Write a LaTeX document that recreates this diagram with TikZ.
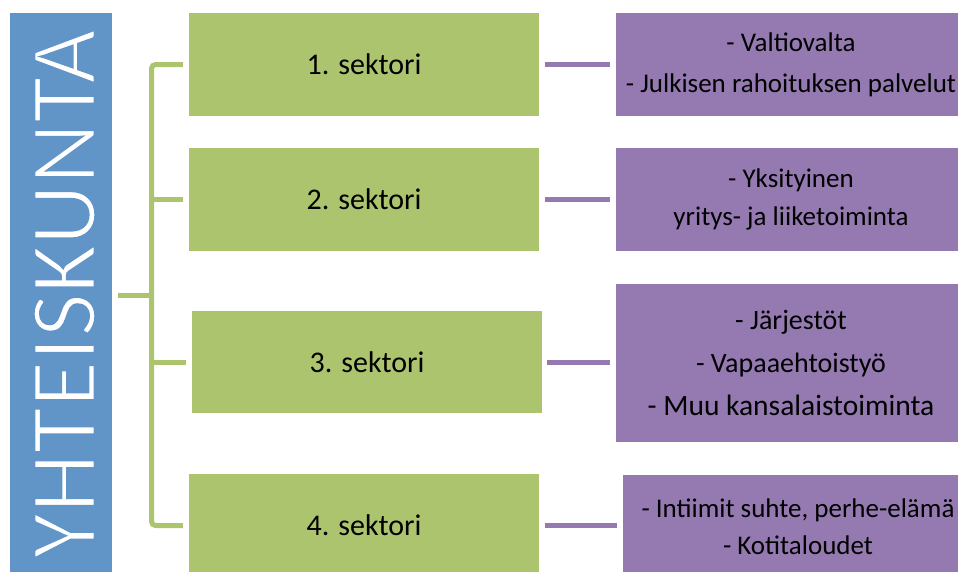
\documentclass[tikz,border=0pt]{standalone}
\usepackage{fontspec}
\setmainfont{Carlito}
\definecolor{bluebox}{HTML}{6195C8}
\definecolor{greenbox}{HTML}{ADC46F}
\definecolor{purplebox}{HTML}{947AB1}
\newcommand{\thintext}[1]{\special{pdf:code q 2 Tr 2.6 w 0.380 0.584 0.784 RG}#1\special{pdf:code Q}}
\begin{document}
\begin{tikzpicture}[x=1pt,y=-1pt,
  gbox/.style={fill=greenbox, draw=none, minimum width=350pt, minimum height=103pt, inner sep=0pt, font=\fontsize{30}{36}\selectfont},
  pbox/.style={fill=purplebox, draw=none, minimum width=350pt, inner sep=0pt, align=center},
  tree/.style={draw=greenbox, line width=5pt},
  conn/.style={draw=purplebox, line width=5pt, shorten <=6pt, shorten >=6pt}]
\useasboundingbox (0,0) rectangle (958,571);
\clip (0,0) rectangle (958,571);
% left blue box
\node[fill=bluebox, minimum width=102pt, minimum height=564pt, inner sep=0pt] (blue) at (61,295) {};
\node[rotate=90, text=white, font=\fontsize{95}{100}\selectfont, inner sep=0pt] (title) at (64.5,294) {\thintext{YHTEISKUNTA}};
% green sectors
\node[gbox] (g1) at (364,64.5) {1. sektori};
\node[gbox] (g2) at (364,199.5) {2. sektori};
\node[gbox, minimum height=102pt] (g3) at (367,362) {3. sektori};
\node[gbox] (g4) at (364,525.5) {4. sektori};
% purple descriptions
\node[pbox, minimum height=103pt, font=\fontsize{27}{41}\selectfont] (p1) at (791,64.5) {- Valtiovalta\\- Julkisen rahoituksen palvelut};
\node[pbox, minimum height=103pt, font=\fontsize{27}{38}\selectfont] (p2) at (791,199.5) {- Yksityinen\\yritys- ja liiketoiminta};
\node[pbox, minimum height=158pt, font=\fontsize{28}{43}\selectfont] (p3) at (791,363) {- Järjestöt\\- Vapaaehtoistyö\\{\fontsize{29.5}{43}\selectfont - Muu kansalaistoiminta}};
\node[pbox, minimum height=103pt, font=\fontsize{27}{37}\selectfont] (p4) at (798,526.5) {- Intiimit suhte, perhe-elämä\\- Kotitaloudet};
% green tree
\coordinate (trunk) at (151.5,295);
\draw[tree, rounded corners=4pt, shorten <=6pt, shorten >=6pt] (g1.west) -| (trunk |- g4.west) -- (g4.west);
\draw[tree, shorten >=6pt] (g2.west -| trunk) -- (g2.west);
\draw[tree, shorten >=6pt] (g3.west -| trunk) -- (g3.west);
\draw[tree, shorten <=6pt] (blue.east) -- (trunk);
% purple connectors
\draw[conn] (g1.east) -- (p1.west);
\draw[conn] (g2.east) -- (p2.west);
\draw[conn, shorten <=5pt] (g3.east) -- (g3.east -| p3.west);
\draw[conn] (g4.east) -- (g4.east -| p4.west);
\end{tikzpicture}
\end{document}
